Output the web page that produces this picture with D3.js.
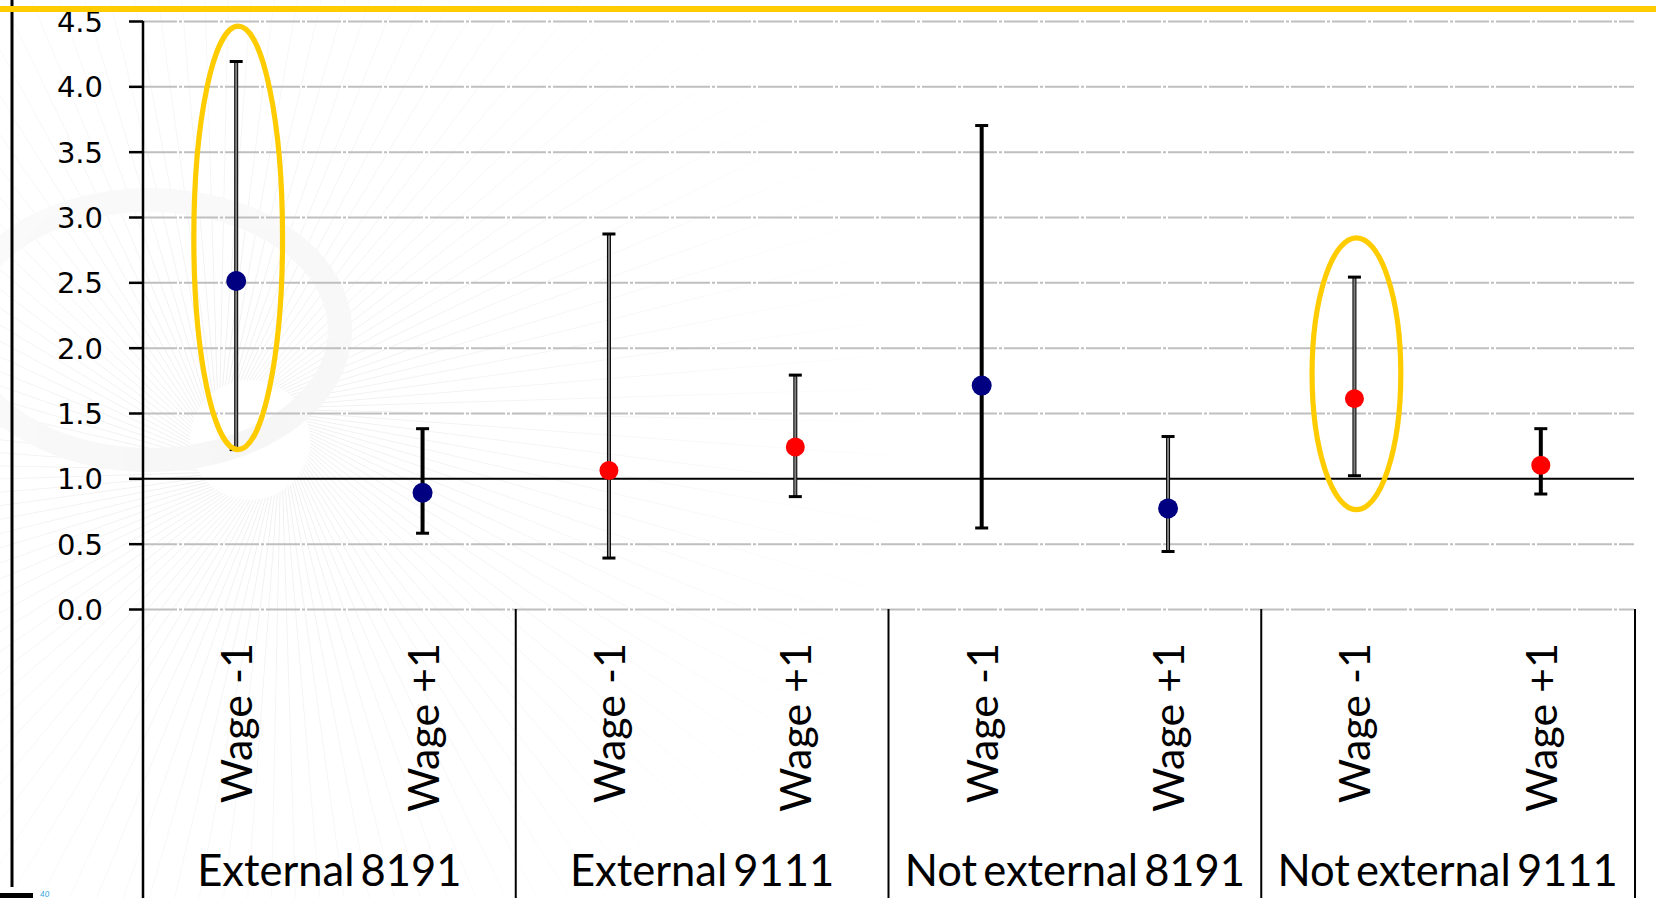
<!DOCTYPE html>
<html>
<head>
<meta charset="utf-8">
<script src="https://cdn.jsdelivr.net/npm/d3@7"></script>
<style>
  html, body { margin:0; padding:0; background:#fff; }
  svg { display:block; }
</style>
</head>
<body>
<script>
// values
const categories = ['Wage -1','Wage +1','Wage -1','Wage +1','Wage -1','Wage +1','Wage -1','Wage +1'];
const groups = ['External 8191','External 9111','Not external 8191','Not external 9111'];
const estimates = [2.51, 0.89, 1.06, 1.24, 1.71, 0.77, 1.61, 1.10];
const upper = [4.19, 1.38, 2.87, 1.79, 3.70, 1.32, 2.54, 1.38];
const lower = [1.22, 0.58, 0.39, 0.86, 0.62, 0.44, 1.02, 0.88];
const yTicks = [0, 0.5, 1.0, 1.5, 2.0, 2.5, 3.0, 3.5, 4.0, 4.5];
// circled points (index) and the value range the ring covers
const circledIdx = [0, 6];
const circledLow = [1.20, 0.74];
const circledHigh = [4.48, 2.86];

render();

function render() {
    const svgWid = 1656;
    const svgHt = 898;
    const margin = {top:21, right:22, left:143};
    const plotBottom = 609;
    const innerW = svgWid - margin.left - margin.right;

    const svg = d3.select('body').append('svg').attr('width', svgWid).attr('height', svgHt);

    //scales
    const yScale = d3.scaleLinear().domain([0, 4.5]).range([plotBottom, margin.top]);
    const xScale = d3.scaleBand().domain(d3.range(categories.length)).range([margin.left, margin.left + innerW]);
    const gScale = d3.scaleBand().domain(groups).range([margin.left, margin.left + innerW]);
    const color = d3.scaleOrdinal().domain(['8191', '9111']).range(['#000080', '#ff0000']);
    const groupOf = i => groups[Math.floor(i / 2)];
    const cx = i => xScale(i) + xScale.bandwidth() / 2;

    //faint fan pattern in the background
    const defs = svg.append('defs');
    const grad = defs.append('radialGradient').attr('id', 'fade');
    grad.append('stop').attr('offset', '0%').attr('stop-color', '#fff').attr('stop-opacity', 1);
    grad.append('stop').attr('offset', '55%').attr('stop-color', '#fff').attr('stop-opacity', 0.5);
    grad.append('stop').attr('offset', '100%').attr('stop-color', '#fff').attr('stop-opacity', 0);
    defs.append('mask').attr('id', 'fanMask')
        .append('circle').attr('cx', 250).attr('cy', 440).attr('r', 700).attr('fill', 'url(#fade)');
    const fan = svg.append('g').attr('mask', 'url(#fanMask)');
    d3.range(0, 360, 3).forEach(a => {
        const r = a * Math.PI / 180;
        fan.append('line')
            .attr('x1', 250 + 60 * Math.cos(r)).attr('y1', 440 + 60 * Math.sin(r))
            .attr('x2', 250 + 700 * Math.cos(r + 0.5)).attr('y2', 440 + 700 * Math.sin(r + 0.5))
            .attr('stroke', '#efefef').attr('stroke-width', 1);
    });
    fan.append('ellipse').attr('cx', 150).attr('cy', 330).attr('rx', 190).attr('ry', 130)
        .attr('fill', 'none').attr('stroke', '#f6f6f6').attr('stroke-width', 24);

    //gridlines
    const grid = d3.axisLeft(yScale).tickValues(yTicks).tickSize(-innerW).tickFormat('');
    const gridG = svg.append('g').attr('transform', `translate(${margin.left},0)`).call(grid);
    gridG.select('.domain').remove();
    gridG.selectAll('.tick line')
        .attr('stroke', d => d === 1 ? '#000' : '#bfbfbf')
        .attr('stroke-width', 2)
        .attr('stroke-dasharray', d => d === 1 ? null : '34,2,3,2');

    //error bars
    const grayBars = [0, 2, 3, 5, 6];
    const bars = svg.append('g');
    estimates.forEach((v, i) => {
        bars.append('line').attr('x1', cx(i)).attr('x2', cx(i))
            .attr('y1', yScale(upper[i])).attr('y2', yScale(lower[i]))
            .attr('stroke', '#000').attr('stroke-width', 4);
        if (grayBars.includes(i)) {
            bars.append('line').attr('x1', cx(i)).attr('x2', cx(i))
                .attr('y1', yScale(upper[i]) + 1).attr('y2', yScale(lower[i]) - 1)
                .attr('stroke', '#808080').attr('stroke-width', 2);
        }
        [upper[i], lower[i]].forEach(e => {
            bars.append('rect').attr('x', cx(i) - 6.5).attr('y', yScale(e) - 1.5)
                .attr('width', 13).attr('height', 3).attr('fill', '#000');
        });
    });

    //points
    svg.append('g').selectAll('circle').data(estimates).enter()
        .append('circle')
        .attr('cx', (d, i) => cx(i))
        .attr('cy', d => yScale(d))
        .attr('r', (d, i) => groupOf(i).endsWith('8191') ? 10 : 9.5)
        .attr('fill', (d, i) => color(groupOf(i).slice(-4)));

    //yellow rings
    circledIdx.forEach((idx, k) => {
        const top = yScale(circledHigh[k]), bot = yScale(circledLow[k]);
        svg.append('ellipse')
            .attr('cx', cx(idx) + 2).attr('cy', (top + bot) / 2)
            .attr('rx', xScale.bandwidth() * 0.252 - 2.6).attr('ry', (bot - top) / 2 - 2.6)
            .attr('fill', 'none').attr('stroke', '#ffcc00').attr('stroke-width', 5.2);
    });

    //yAxis
    const yAxis = d3.axisLeft(yScale).tickValues(yTicks).tickSize(14).tickPadding(26).tickFormat(d3.format('.1f'));
    const yAxisG = svg.append('g').attr('transform', `translate(${margin.left},0)`).call(yAxis);
    yAxisG.select('.domain').remove();
    yAxisG.selectAll('.tick line').attr('stroke', '#000').attr('stroke-width', 2.5);
    yAxisG.selectAll('.tick text').attr('fill', '#000').attr('font-family', 'DejaVu Sans')
        .attr('font-size', '29px').attr('dy', '0.36em');
    svg.append('line').attr('x1', margin.left).attr('x2', margin.left)
        .attr('y1', margin.top).attr('y2', svgHt).attr('stroke', '#000').attr('stroke-width', 2.5);

    //category area: separators and labels
    const sepX = groups.map(g => gScale(g) + gScale.bandwidth()).slice(0, 3).concat([margin.left + innerW + 1]);
    sepX.forEach(xx => {
        svg.append('line').attr('x1', xx).attr('x2', xx).attr('y1', plotBottom).attr('y2', svgHt)
            .attr('stroke', '#000').attr('stroke-width', 2);
    });
    svg.append('g').selectAll('text').data(categories).enter()
        .append('text').text(d => d)
        .attr('transform', (d, i) => `translate(${cx(i) + 16},643) rotate(-90)`)
        .attr('text-anchor', 'end').attr('font-family', 'Lato').attr('font-size', '43px').attr('fill', '#000');
    svg.append('g').selectAll('text').data(groups).enter()
        .append('text').text(d => d)
        .attr('x', d => gScale(d) + gScale.bandwidth() / 2).attr('y', 886)
        .attr('text-anchor', 'middle').attr('font-family', 'Lato').attr('font-size', '43.5px')
        .attr('word-spacing', '-5px').attr('fill', '#000');

    //slide frame bits
    svg.append('line').attr('x1', 12).attr('x2', 12).attr('y1', 0).attr('y2', 887)
        .attr('stroke', '#000').attr('stroke-width', 3);
    svg.append('rect').attr('x', 0).attr('y', 6).attr('width', svgWid).attr('height', 6).attr('fill', '#ffcc00');
    svg.append('rect').attr('x', 0).attr('y', 893).attr('width', 33).attr('height', 5).attr('fill', '#000');
    svg.append('text').text('40').attr('x', 40).attr('y', 897).attr('font-size', '8px')
        .attr('font-style', 'italic').attr('font-family', 'Lato').attr('fill', '#2a9fd8');
}
</script>
</body>
</html>
